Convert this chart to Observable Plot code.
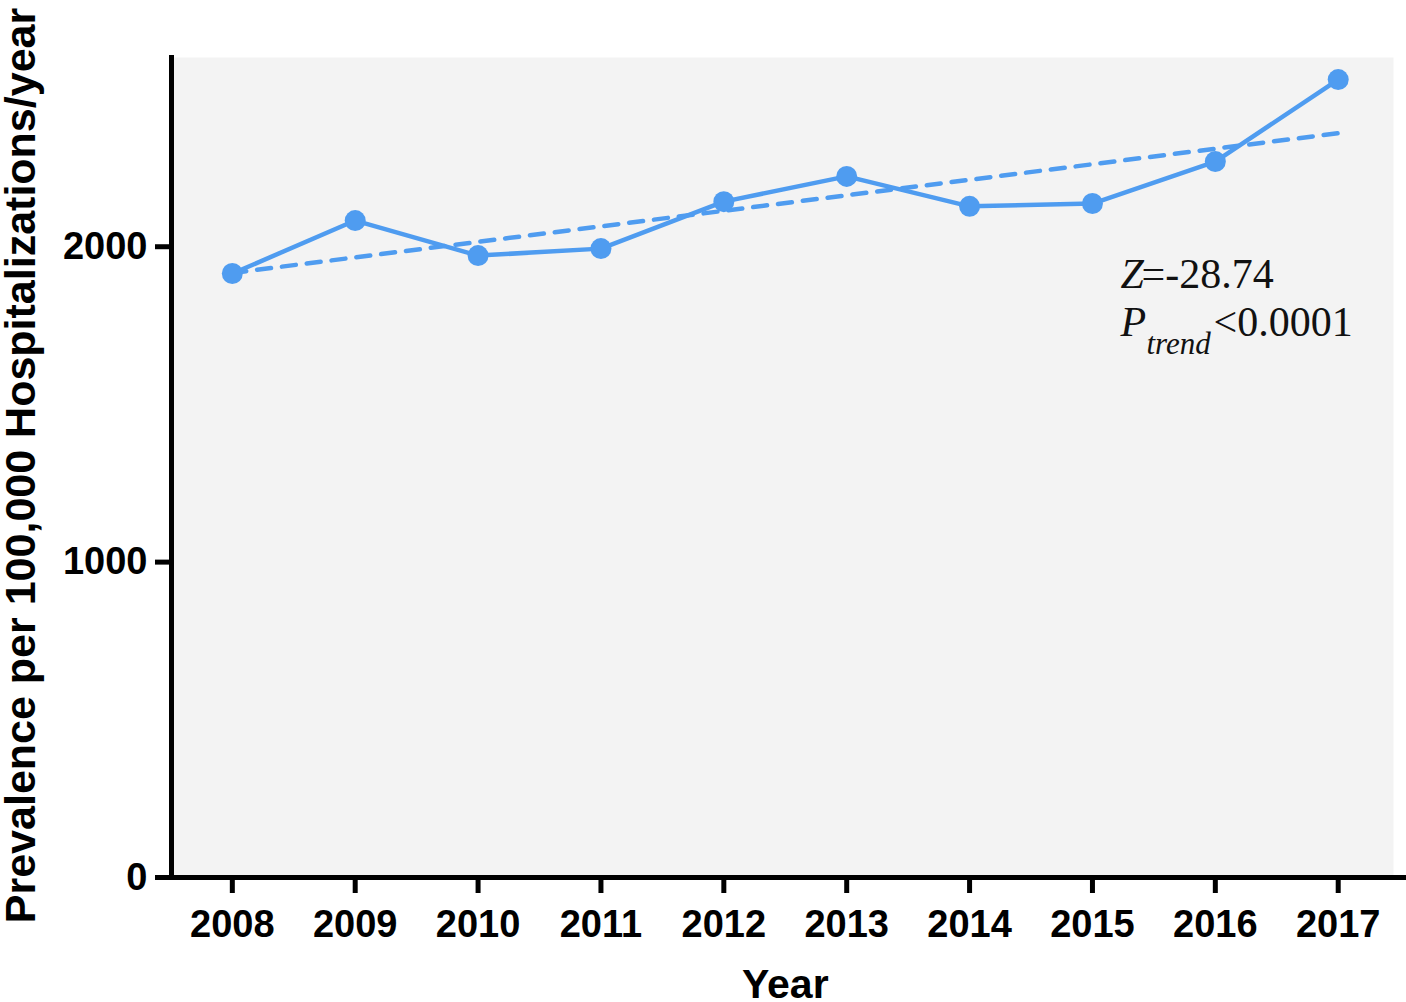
<!DOCTYPE html>
<html>
<head>
<meta charset="utf-8">
<script src="https://cdn.jsdelivr.net/npm/d3@7"></script>
<script src="https://cdn.jsdelivr.net/npm/@observablehq/plot@0.6"></script>
<style>
  html, body { margin: 0; padding: 0; background: #fff; }
  #chart svg { display: block; overflow: visible; }
</style>
</head>
<body>
<div id="chart"></div>
<script>
// ---- data ----
const years = [2008, 2009, 2010, 2011, 2012, 2013, 2014, 2015, 2016, 2017];
const prevalence = [1915, 2083, 1972, 1994, 2143, 2223, 2128, 2137, 2270, 2530];
const trendYears = [2008, 2017];
const trendValues = [1917, 2360];
const yTicks = [0, 1000, 2000];
const yTitle = "Prevalence per 100,000 Hospitalizations/year";
const xTitle = "Year";
const statZ = ["Z", "=-28.74"];
const statP = ["P", "trend", "<0.0001"];

// ---- layout ----
const W = 1406, H = 1002;
const mL = 171, mR = 13, mT = 57, mB = 125;
const xMin = 2007.505, xMax = 2017.45;
const yMax = 2600;
const xPerPx = (xMax - xMin) / (W - mL - mR);
const yPerPx = yMax / (H - mT - mB);
const color = "#4f9cf0";
const sans = "'Liberation Sans', Arial, Helvetica, sans-serif";
const serif = "'Liberation Serif', 'Times New Roman', Times, serif";

const series = years.map((y, i) => ({year: y, value: prevalence[i]}));
const trend = trendYears.map((y, i) => ({year: y, value: trendValues[i]}));

const annX = xMin + (1120 - mL) * xPerPx;
const annY1 = (H - mB - 287) * yPerPx;
const annY2 = (H - mB - 335) * yPerPx;

const chart = Plot.plot({
  width: W,
  height: H,
  marginLeft: mL,
  marginRight: mR,
  marginTop: mT,
  marginBottom: mB,
  style: {background: "#fff", overflow: "visible"},
  x: {domain: [xMin, xMax], axis: null},
  y: {domain: [0, yMax], axis: null},
  marks: [
    Plot.frame({fill: "#f3f3f3", stroke: null}),
    // trend (dashed)
    Plot.line(trend, {x: "year", y: "value", stroke: color, strokeWidth: 4.5, strokeDasharray: "14,11"}),
    // observed series
    Plot.line(series, {x: "year", y: "value", stroke: color, strokeWidth: 4.5}),
    Plot.dot(series, {x: "year", y: "value", r: 10.5, fill: color, stroke: null}),
    // axis lines
    Plot.ruleX([xMin], {y1: 0, y2: yMax + 2 * yPerPx, stroke: "#000", strokeWidth: 5}),
    Plot.ruleY([0], {x1: xMin - 16 * xPerPx, x2: xMax + 13 * xPerPx, stroke: "#000", strokeWidth: 5}),
    // x ticks + labels
    Plot.ruleX(years, {x: d => d, y1: 0, y2: -16 * yPerPx, stroke: "#000", strokeWidth: 5}),
    Plot.text(years, {x: d => d, y: 0, dy: 59, text: d => String(d), lineAnchor: "bottom",
      fontSize: 38, fontWeight: "bold", fontFamily: sans, fill: "#000"}),
    // y ticks + labels
    Plot.ruleY(yTicks, {y: d => d, x1: xMin - 16 * xPerPx, x2: xMin, stroke: "#000", strokeWidth: 5}),
    Plot.text(yTicks, {x: xMin, y: d => d, dx: -24, text: d => String(d), textAnchor: "end",
      fontSize: 38, fontWeight: "bold", fontFamily: sans, fill: "#000"}),
    // axis titles
    Plot.text([yTitle], {frameAnchor: "left", dx: 34 - mL, dy: -2, rotate: -90, text: d => d,
      textAnchor: "middle", lineAnchor: "bottom", fontSize: 43, fontWeight: "bold", fontFamily: sans, fill: "#000"}),
    Plot.text([xTitle], {x: 2012.5, y: 0, dy: 120, text: d => d, lineAnchor: "bottom",
      fontSize: 41, fontWeight: "bold", fontFamily: sans, fill: "#000"}),
    // annotation
    Plot.text([statZ[0]], {x: annX, y: annY1, text: d => d, textAnchor: "start", lineAnchor: "bottom",
      fontSize: 42, fontStyle: "italic", fontFamily: serif, fill: "#111"}),
    Plot.text([statZ[1]], {x: annX, y: annY1, dx: 21, text: d => d, textAnchor: "start", lineAnchor: "bottom",
      fontSize: 42, fontFamily: serif, fill: "#111"}),
    Plot.text([statP[0]], {x: annX, y: annY2, text: d => d, textAnchor: "start", lineAnchor: "bottom",
      fontSize: 42, fontStyle: "italic", fontFamily: serif, fill: "#111"}),
    Plot.text([statP[1]], {x: annX, y: annY2, dx: 26, dy: 18, text: d => d, textAnchor: "start", lineAnchor: "bottom",
      fontSize: 31, fontStyle: "italic", fontFamily: serif, fill: "#111"}),
    Plot.text([statP[2]], {x: annX, y: annY2, dx: 93, text: d => d, textAnchor: "start", lineAnchor: "bottom",
      fontSize: 42, fontFamily: serif, fill: "#111"})
  ]
});

document.getElementById("chart").appendChild(chart);
</script>
</body>
</html>
